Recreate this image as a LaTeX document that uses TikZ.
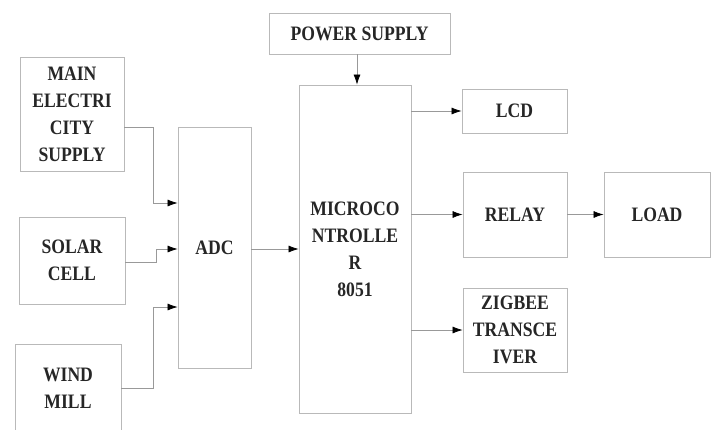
\documentclass[tikz,border=0pt]{standalone}
\usepackage{fontspec}
\setmainfont{Liberation Serif}[FakeStretch=0.86]
\usetikzlibrary{arrows.meta}
\begin{document}
\begin{tikzpicture}[x=1pt,y=-1pt,
  box/.style={draw=gray!55, line width=0.8pt, font=\bfseries\fontsize{20.5}{27}\selectfont,
    align=center, inner sep=0pt, text=black!85},
  conn/.style={draw=gray!80, line width=0.7pt, -{Latex[length=10pt,width=7pt,color=black]}}]
\useasboundingbox (0,0) rectangle (715,429);
\clip (0,0) rectangle (715,429);
\node[box, minimum width=104, minimum height=114] (main) at (72,114) {MAIN\\ELECTRI\\CITY\\SUPPLY};
\node[box, minimum width=106, minimum height=87] (solar) at (72,260.5) {SOLAR\\CELL};
\node[box, minimum width=106, minimum height=88] (wind) at (68,388) {WIND\\MILL};
\node[box, minimum width=73, minimum height=241] (adc) at (214.5,247.5) {ADC};
\node[box, minimum width=112, minimum height=328] (mcu) at (355,249) {MICROCO\\NTROLLE\\R\\8051};
\node[box, minimum width=181, minimum height=41] (power) at (359.5,33.5) {POWER SUPPLY};
\node[box, minimum width=105, minimum height=44] (lcd) at (514.5,111) {LCD};
\node[box, minimum width=104, minimum height=85] (relay) at (515,214.5) {RELAY};
\node[box, minimum width=104, minimum height=84] (zig) at (515,330) {ZIGBEE\\TRANSCE\\IVER};
\node[box, minimum width=106, minimum height=85] (load) at (657,214.5) {LOAD};
\draw[conn] (main.east |- 0,127) -- (153,127) -- (153,203) -- (adc.west |- 0,203);
\draw[conn] (solar.east |- 0,262) -- (156,262) -- (156,249) -- (adc.west |- 0,249);
\draw[conn] (wind.east |- 0,388) -- (153,388) -- (153,307) -- (adc.west |- 0,307);
\draw[conn] (adc.east |- 0,249) -- (mcu.west |- 0,249);
\draw[conn] (power.south -| 357,0) -- (mcu.north -| 357,0);
\draw[conn] (mcu.east |- lcd.west) -- (lcd.west);
\draw[conn] (mcu.east |- relay.west) -- (relay.west);
\draw[conn] (mcu.east |- zig.west) -- (zig.west);
\draw[conn] (relay.east) -- (load.west);
\end{tikzpicture}
\end{document}
